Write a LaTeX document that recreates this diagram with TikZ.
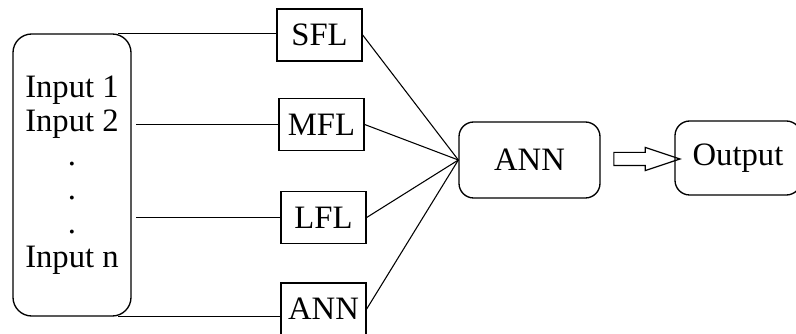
\documentclass[tikz,border=0pt]{standalone}
\usepackage{fontspec}
\setmainfont{Liberation Serif}
\usetikzlibrary{shapes.arrows}

\tikzset{
	boxfont/.style={font=\fontsize{24.5}{25.5}\selectfont},
	sqbox/.style={draw, line width=1pt, inner sep=0pt, minimum width=63.75pt, minimum height=39pt, boxfont},
	rdbox/.style={draw, line width=1pt, inner sep=0pt, rounded corners=11pt, boxfont},
	link/.style={line width=0.8pt},
	hollowarrow/.style={draw, line width=0.9pt, single arrow, inner xsep=0pt, inner ysep=4.5pt, minimum height=49.5pt, single arrow head extend=3.75pt, single arrow tip angle=37},
}

\begin{document}
\begin{tikzpicture}[x=0.75pt,y=0.75pt,yscale=-1,xscale=1]
	\useasboundingbox (0,0) rectangle (796,334);

	% Text Node
	\node [rdbox, rounded corners=14pt, align=center, minimum width=88.5pt, minimum height=211.5pt] (inp) at (72,175)
		{Input 1\\Input 2\\.\\.\\.\\Input n};
	% Text Node
	\node [sqbox] (SFL) at (319.5,35) {SFL};
	% Text Node
	\node [sqbox] (MFL) at (321.5,124.5) {MFL};
	% Text Node
	\node [sqbox] (LFL) at (323.5,217.5) {LFL};
	% Text Node
	\node [sqbox] (ann2) at (323.5,309) {ANN};
	% Text Node
	\node [rdbox, minimum width=105.75pt, minimum height=57pt] (ann) at (529.5,160) {ANN};
	% Text Node
	\node [rdbox, minimum width=94.5pt, minimum height=55.5pt] (out) at (738,158) {Output};
	% Arrow
	\node [hollowarrow] (arr) at (637,159) {};

	% Connection
	\draw [link]   ([xshift=-10pt]inp.north east) -- (inp.north -| SFL.west) ;
	% Connection
	\draw [link, shorten >=3pt]   (MFL.west) -- (MFL.west -| inp.east) ;
	% Connection
	\draw [link, shorten >=3pt]   (LFL.west) -- (LFL.west -| inp.east) ;
	% Connection
	\draw [link]   ([xshift=-10pt]inp.south east) -- (inp.south -| ann2.west) ;
	% Connection
	\draw [link]   (SFL.east) -- (ann.west) ;
	% Connection
	\draw [link]   (MFL.east) -- (ann.west) ;
	% Connection
	\draw [link]   (LFL.east) -- (ann.west) ;
	% Connection
	\draw [link]   (ann2.east) -- (ann.west) ;

\end{tikzpicture}
\end{document}
